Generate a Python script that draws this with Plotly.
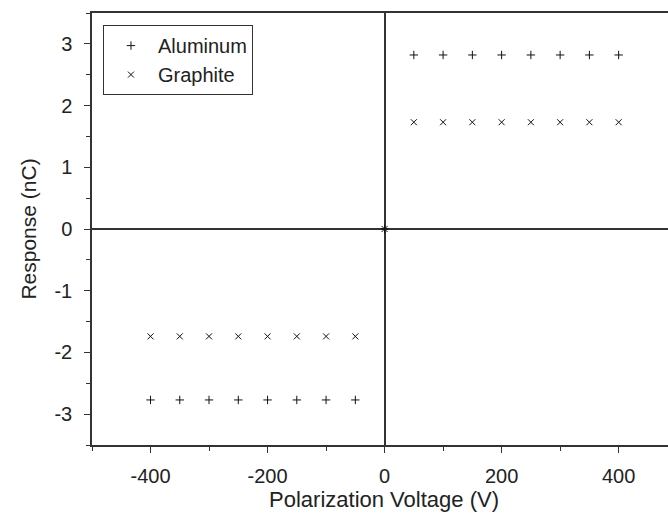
import plotly.graph_objects as go

voltage_neg = [-400, -350, -300, -250, -200, -150, -100, -50]
voltage_pos = [50, 100, 150, 200, 250, 300, 350, 400]
voltage = voltage_neg + [0] + voltage_pos
aluminum = [-2.77] * 8 + [0] + [2.82] * 8
graphite = [-1.74] * 8 + [0] + [1.73] * 8

x_tickvals = [-400, -200, 0, 200, 400]
x_ticktext = ["-400", "-200", "0", "200", "400"]
y_tickvals = [-3, -2, -1, 0, 1, 2, 3]
y_ticktext = ["-3", "-2", "-1", "0", "1", "2", "3"]

font = dict(family="Arial", size=20, color="#222")

fig = go.Figure()
fig.add_trace(go.Scatter(
    x=voltage, y=aluminum, mode="markers", name="Aluminum",
    marker=dict(symbol="cross-thin", size=6, line=dict(width=1, color="#111"), color="#111"),
))
fig.add_trace(go.Scatter(
    x=voltage, y=graphite, mode="markers", name="Graphite",
    marker=dict(symbol="x-thin", size=6, line=dict(width=1, color="#111"), color="#111"),
))

fig.update_layout(
    width=676, height=514,
    margin=dict(l=92, r=0, t=13, b=69),
    plot_bgcolor="white", paper_bgcolor="white",
    font=font,
    showlegend=True,
    legend=dict(
        x=0.0188, y=0.972, xanchor="left", yanchor="top",
        bordercolor="#333", borderwidth=1, bgcolor="white",
        font=dict(size=20), itemwidth=44, tracegroupgap=0,
    ),
    xaxis=dict(
        range=[-500, 498], tickvals=x_tickvals, ticktext=x_ticktext,
        ticks="outside", ticklen=6, tickwidth=1.2, tickcolor="#333",
        minor=dict(dtick=100, tick0=0, ticks="outside", ticklen=4, tickcolor="#333"),
        showline=True, linecolor="#333", linewidth=1.5, mirror=True,
        showgrid=False, zeroline=True, zerolinecolor="#333", zerolinewidth=1.5,
        title=dict(text="Polarization Voltage (V)", standoff=6, font=dict(size=22)),
        ticklabelstandoff=6,
    ),
    yaxis=dict(
        range=[-3.5, 3.5], tickvals=y_tickvals, ticktext=y_ticktext,
        ticks="outside", ticklen=6, tickwidth=1.2, tickcolor="#333",
        minor=dict(dtick=0.5, tick0=0, ticks="outside", ticklen=4, tickcolor="#333"),
        showline=True, linecolor="#333", linewidth=1.5, mirror=False,
        showgrid=False, zeroline=True, zerolinecolor="#333", zerolinewidth=1.5,
        title=dict(text="Response (nC)", standoff=12, font=dict(size=21)),
        ticklabelstandoff=8,
    ),
)

fig.write_html("out.html", config={"displayModeBar": False},
               post_script="document.body.style.margin='0';document.body.style.overflow='hidden';document.documentElement.style.overflow='hidden';")
